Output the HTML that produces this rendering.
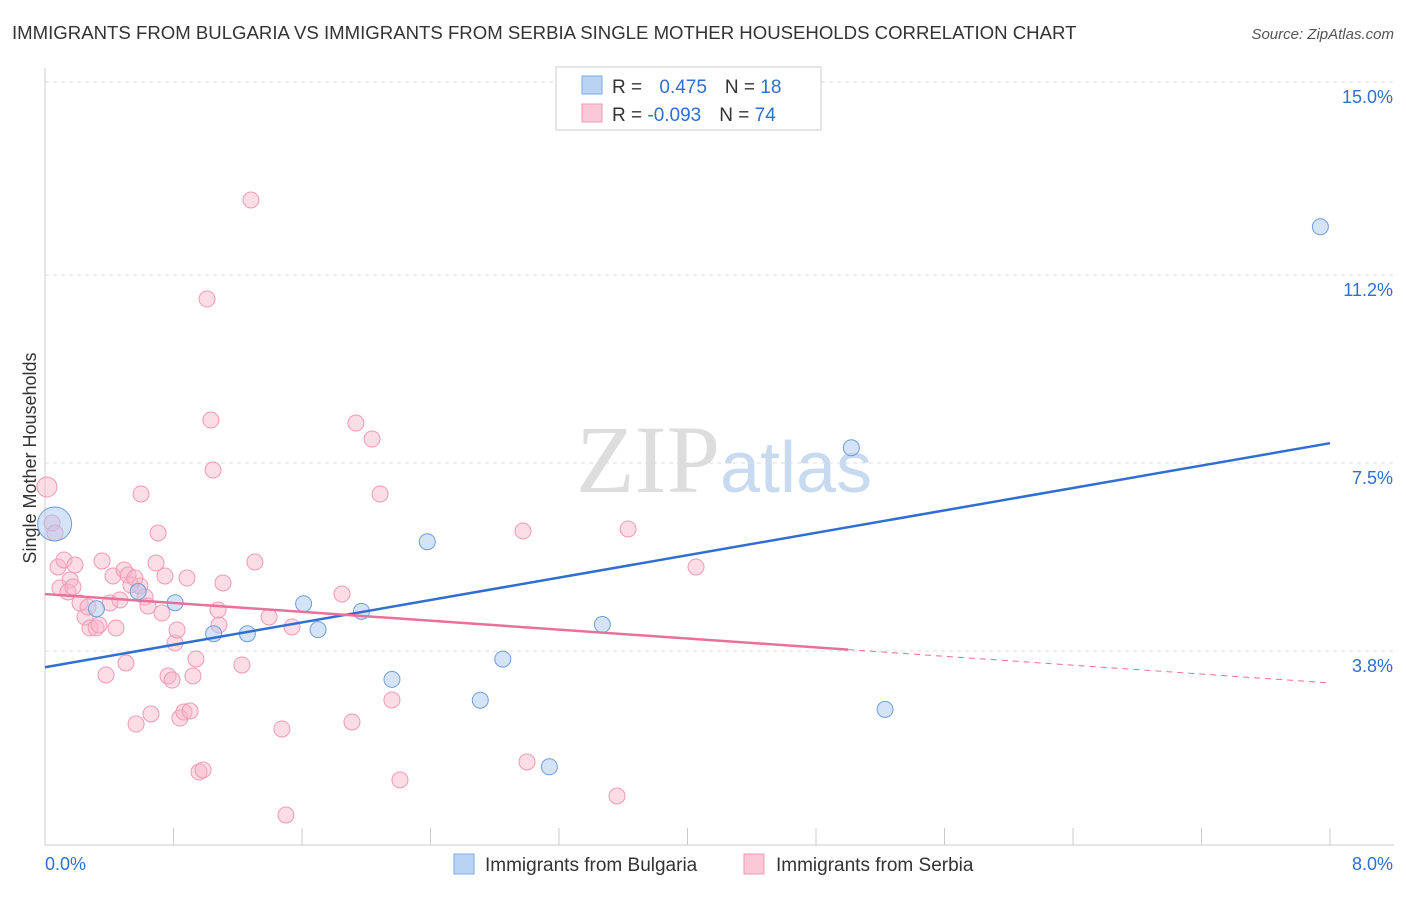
<!DOCTYPE html>
<html><head><meta charset="utf-8"><style>
body{margin:0;background:#fff;font-family:"Liberation Sans",sans-serif}
svg text{font-family:"Liberation Sans",sans-serif}
</style></head><body>
<svg id="c" width="1406" height="892">
<text x="12" y="39" font-size="18.6" fill="#333">IMMIGRANTS FROM BULGARIA VS IMMIGRANTS FROM SERBIA SINGLE MOTHER HOUSEHOLDS CORRELATION CHART</text>
<text x="1394" y="39" font-size="15" fill="#555" font-style="italic" text-anchor="end">Source: ZipAtlas.com</text>
<text x="36" y="458" font-size="18" fill="#333" text-anchor="middle" transform="rotate(-90 36 458)">Single Mother Households</text>
<text x="720" y="492" font-size="96" fill="#ddd" text-anchor="end" style="font-family:'Liberation Serif',serif">ZIP</text>
<text x="720" y="492" font-size="72" fill="#c8daf0">atlas</text>
<g id="grid"></g><g id="pts"></g><g id="lines"></g>
<g>
<rect x="556" y="67" width="265" height="63" fill="#fff" stroke="#ccc"/>
<rect x="582" y="76" width="20" height="18" fill="#b9d3f5" stroke="#7fa8e0"/>
<rect x="582" y="104" width="20" height="18" fill="#fbc8d7" stroke="#f09ab4"/>
<text x="612" y="93" font-size="19" fill="#333">R = <tspan fill="#2f6fd1" dx="12">0.475</tspan><tspan dx="18" fill="#333">N = </tspan><tspan fill="#2f6fd1">18</tspan></text>
<text x="612" y="121" font-size="19" fill="#333">R = <tspan fill="#2f6fd1">-0.093</tspan><tspan dx="18" fill="#333">N = </tspan><tspan fill="#2f6fd1">74</tspan></text>
</g>
<g>
<rect x="454" y="854" width="20" height="20" fill="#b9d3f5" stroke="#7fa8e0"/>
<text x="485" y="871" font-size="19" fill="#333">Immigrants from Bulgaria</text>
<rect x="744" y="854" width="20" height="20" fill="#fbc8d7" stroke="#f09ab4"/>
<text x="776" y="871" font-size="19" fill="#333">Immigrants from Serbia</text>
</g>
</svg>
<script>
const yTicks=[15.0,11.2,7.5,3.8];
const yTickLabels=["15.0%","11.2%","7.5%","3.8%"];
const xTickCount=10;
const bulgariaX=[0.06,0.32,0.58,0.81,1.05,1.26,1.61,1.70,1.97,2.16,2.38,2.71,2.85,3.14,3.47,5.02,5.23,7.94];
const bulgariaY=[6.3,4.63,4.97,4.75,4.14,4.14,4.73,4.22,4.58,3.24,5.95,2.83,3.64,1.52,4.32,7.8,2.65,12.15];
const serbiaPx=[[47,487],[52,523],[55,533],[58,567],[64,560],[70,580],[60,588],[68,592],[75,565],[73,587],[80,603],[85,617],[88,607],[90,628],[96,628],[99,625],[102,561],[106,675],[110,603],[113,576],[116,628],[120,600],[124,570],[126,663],[128,575],[131,585],[136,724],[140,586],[141,494],[145,597],[148,606],[151,714],[156,563],[158,533],[162,613],[165,576],[168,676],[172,680],[175,643],[177,630],[180,718],[184,712],[187,578],[190,711],[193,676],[196,659],[199,772],[203,770],[207,299],[211,420],[213,470],[218,610],[219,625],[223,583],[242,665],[251,200],[255,562],[269,617],[282,729],[286,815],[292,627],[342,594],[352,722],[356,423],[372,439],[380,494],[392,700],[400,780],[523,531],[527,762],[617,796],[628,529],[696,567],[135,578]];
const serbiaX=serbiaPx.map(p=>+((p[0]-45)/1285*8).toFixed(3));
const serbiaY=serbiaPx.map(p=>+(15-(p[1]-82)/50.8).toFixed(3));
const blueTrend=[3.48,7.89];
const pinkTrend=[4.92,3.17];
const pinkSolidEnd=5.0;
const X=v=>45+v/8*1285, Y=v=>82+(15-v)*50.8;
const NS="http://www.w3.org/2000/svg";
function mk(t,a,p){const e=document.createElementNS(NS,t);for(const k in a)e.setAttribute(k,a[k]);p.appendChild(e);return e;}
const g=document.getElementById('grid');
yTicks.forEach((v,i)=>{
 const l=mk('line',{x1:45,x2:1394,y1:Y(v),y2:Y(v),stroke:'#ddd','stroke-dasharray':'4,4'},g);
 
 
 const t=mk('text',{x:1393,y:Y(v)+21,'font-size':18,fill:'#2f6fd1','text-anchor':'end'},g);t.textContent=yTickLabels[i];
 
 
});
mk('line',{x1:45,x2:45,y1:68,y2:845,stroke:'#ccc'},g);
mk('line',{x1:45,x2:1394,y1:845,y2:845,stroke:'#ccc'},g);
for(let i=0;i<=xTickCount;i++){const x=X(8*i/xTickCount);const l=mk('line',{x1:x,x2:x,y1:828,y2:845,stroke:'#ccc'},g);
 
 }
let t=mk('text',{x:45,y:870,'font-size':18,fill:'#2f6fd1'},g);t.textContent="0.0%";


t=mk('text',{x:1393,y:870,'font-size':18,fill:'#2f6fd1','text-anchor':'end'},g);t.textContent="8.0%";


const P=document.getElementById('pts');
serbiaX.forEach((x,i)=>{const c=mk('circle',{cx:X(x),cy:Y(serbiaY[i]),r:i==0?10:8,fill:'rgba(248,180,200,0.45)',stroke:'#f09ab4','stroke-width':1},P);
 
 });
bulgariaX.forEach((x,i)=>{const c=mk('circle',{cx:X(x),cy:Y(bulgariaY[i]),r:i==0?17:8,fill:'rgba(170,200,240,0.5)',stroke:'#6f9edc','stroke-width':1},P);
 
 });
const L=document.getElementById('lines');
const pv=x=>pinkTrend[0]+(pinkTrend[1]-pinkTrend[0])*x/8;
let e=mk('line',{x1:X(0),y1:Y(blueTrend[0]),x2:X(8),y2:Y(blueTrend[1]),stroke:'#2f6fd1','stroke-width':2.5},L);


e=mk('line',{x1:X(0),y1:Y(pv(0)),x2:X(pinkSolidEnd),y2:Y(pv(pinkSolidEnd)),stroke:'#e8709a','stroke-width':2.5},L);


e=mk('line',{x1:X(pinkSolidEnd),y1:Y(pv(pinkSolidEnd)),x2:X(8),y2:Y(pv(8)),stroke:'#e8709a','stroke-width':1,'stroke-dasharray':'6,5'},L);


</script>
</body></html>
